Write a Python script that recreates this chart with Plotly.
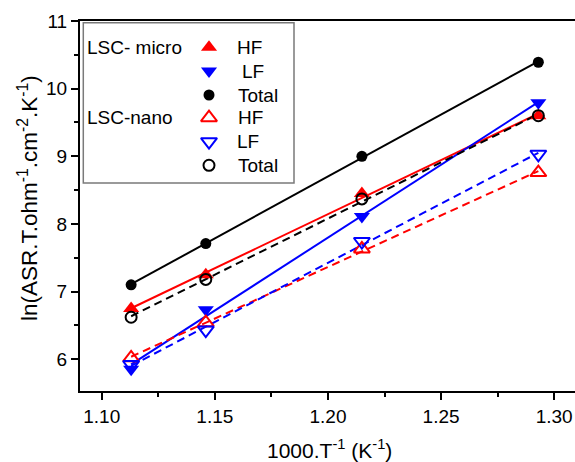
import numpy as np
import plotly.graph_objects as go

# ---- data ----
inv_T = [1.113, 1.146, 1.215, 1.293]
micro_HF = [6.75, 7.25, 8.45, 9.60]
micro_LF = [5.85, 6.73, 8.11, 9.79]
micro_Total = [7.10, 7.71, 9.00, 10.39]
nano_HF = [6.02, 6.54, 7.63, 8.76]
nano_LF = [5.92, 6.43, 7.74, 9.03]
nano_Total = [6.62, 7.18, 8.37, 9.60]

x_ticks = [1.10, 1.15, 1.20, 1.25, 1.30]
x_tick_text = ["1.10", "1.15", "1.20", "1.25", "1.30"]
y_ticks = [6, 7, 8, 9, 10, 11]

RED = "#FF0000"
BLUE = "#0000FF"
BLACK = "#000000"
FONT = "Liberation Sans, Arial, sans-serif"

series = [
    # (y, color, solid?, symbol)
    (micro_HF, RED, True, "triangle-up"),
    (micro_LF, BLUE, True, "triangle-down"),
    (micro_Total, BLACK, True, "circle"),
    (nano_HF, RED, False, "triangle-up-open"),
    (nano_LF, BLUE, False, "triangle-down-open"),
    (nano_Total, BLACK, False, "circle-open"),
]

fig = go.Figure()
x = np.array(inv_T)
xf = np.array([x.min(), x.max()])
# fit lines
for y, col, solid, sym in series:
    k, b = np.polyfit(x, np.array(y), 1)
    fig.add_trace(go.Scatter(
        x=xf, y=k * xf + b, mode="lines",
        line=dict(color=col, width=2, dash="solid" if solid else "8px,5px"),
        showlegend=False, hoverinfo="skip"))
# markers
for y, col, solid, sym in series:
    size = 11 if "circle" in sym else 14
    fig.add_trace(go.Scatter(
        x=inv_T, y=y, mode="markers",
        marker=dict(symbol=sym, size=size, color=col,
                    line=dict(color=col, width=2 if not solid else 0)),
        showlegend=False))

# ---- custom legend on an overlay pixel axis ----
leg_rows = [47.3, 71.0, 95.0, 117.7, 141.7, 165.3]
leg_labels = ["HF", "LF", "Total", "HF", "LF", "Total"]
leg_text_x = [235, 240, 235.5, 236, 235, 235.5]
for (y, col, solid, sym), ry in zip(series, leg_rows):
    size = 11 if "circle" in sym else 14
    fig.add_trace(go.Scatter(
        x=[209], y=[ry], xaxis="x2", yaxis="y2", mode="markers",
        marker=dict(symbol=sym, size=size, color=col,
                    line=dict(color=col, width=2 if not solid else 0)),
        showlegend=False, hoverinfo="skip"))

LEG_FS = 19
annotations = []
for lbl, tx, ry in zip(leg_labels, leg_text_x, leg_rows):
    annotations.append(dict(x=tx, y=ry, xref="x2", yref="y2", text=lbl,
                            showarrow=False, xanchor="left", yanchor="middle",
                            font=dict(family=FONT, size=LEG_FS, color="black")))
annotations.append(dict(x=85, y=leg_rows[0], xref="x2", yref="y2", text="LSC- micro",
                        showarrow=False, xanchor="left", yanchor="middle",
                        font=dict(family=FONT, size=LEG_FS, color="black")))
annotations.append(dict(x=85, y=leg_rows[3], xref="x2", yref="y2", text="LSC-nano",
                        showarrow=False, xanchor="left", yanchor="middle",
                        font=dict(family=FONT, size=LEG_FS, color="black")))
# axis titles (paper coords; plot area is x 80..575 px, y 21..391 px)
annotations.append(dict(x=(329 - 80) / 495, y=(391 - 449) / 370, xref="paper", yref="paper",
                        text="1000.T<sup>-1</sup> (K<sup>-1</sup>)", showarrow=False,
                        xanchor="center", yanchor="middle",
                        font=dict(family=FONT, size=21, color="black")))
annotations.append(dict(x=(28 - 80) / 495, y=(391 - 198) / 370, xref="paper", yref="paper",
                        textangle=-90,
                        text="ln(ASR.T.ohm<sup>-1</sup>.cm<sup>-2</sup>.K<sup>-1</sup>)",
                        showarrow=False, xanchor="center", yanchor="middle",
                        font=dict(family=FONT, size=22.5, color="black")))

shapes = [dict(type="rect", xref="x2", yref="y2", x0=83.3, x1=294, y0=22.7, y1=183,
               line=dict(color="#7a7a7a", width=1.5), fillcolor="white", layer="below")]

fig.update_layout(
    width=575, height=462,
    margin=dict(l=80, r=0, t=21, b=71),
    paper_bgcolor="white", plot_bgcolor="white",
    font=dict(family=FONT, size=19, color="black"),
    xaxis=dict(range=[1.0904, 1.3092], tickvals=x_ticks, ticktext=x_tick_text,
               ticks="outside", ticklen=7, tickwidth=1.5, tickcolor="black",
               showline=True, linecolor="black", linewidth=2, mirror=True,
               showgrid=False, zeroline=False,
               minor=dict(dtick=0.025, tick0=1.10, ticks="outside", ticklen=4,
                          tickwidth=1.5, tickcolor="black", showgrid=False),
               tickfont=dict(size=19)),
    yaxis=dict(range=[5.53, 11], tickvals=y_ticks,
               ticks="outside", ticklen=7, tickwidth=1.5, tickcolor="black",
               showline=True, linecolor="black", linewidth=2, mirror=False,
               showgrid=False, zeroline=False,
               minor=dict(dtick=0.5, tick0=6, ticks="outside", ticklen=4,
                          tickwidth=1.5, tickcolor="black", showgrid=False),
               tickfont=dict(size=19)),
    xaxis2=dict(overlaying="x", range=[80, 575], visible=False, domain=[0, 1]),
    yaxis2=dict(overlaying="y", range=[391, 21], visible=False),
    annotations=annotations,
    shapes=shapes,
    showlegend=False,
)

fig.write_html("out.html")
